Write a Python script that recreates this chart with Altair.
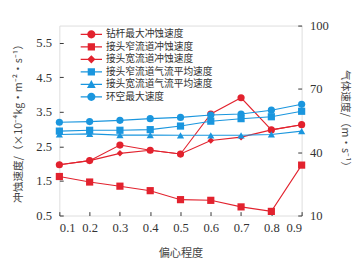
import altair as alt
import pandas as pd

x_vals = [0.1, 0.2, 0.3, 0.4, 0.5, 0.6, 0.7, 0.8, 0.9]

# left axis: erosion rate (x10^-4 kg m^-2 s^-1)
drill_max = [1.97, 2.09, 2.54, 2.39, 2.28, 3.44, 3.91, 2.98, 3.13]
narrow_ero = [1.63, 1.47, 1.35, 1.22, 0.96, 0.94, 0.75, 0.62, 1.96]
wide_ero = [1.97, 2.09, 2.30, 2.39, 2.28, 2.67, 2.77, 2.98, 3.13]

# right axis: gas velocity (m/s)
narrow_gas = [50.0, 50.4, 50.4, 50.7, 52.4, 54.7, 55.9, 56.8, 59.4]
wide_gas = [48.4, 48.7, 48.1, 48.1, 48.0, 48.0, 48.0, 48.4, 50.0]
annulus_max = [54.2, 54.5, 55.1, 55.9, 56.5, 57.6, 58.1, 59.9, 62.7]

names = ["钻杆最大冲蚀速度", "接头窄流道冲蚀速度", "接头宽流道冲蚀速度",
         "接头窄流道气流平均速度", "接头宽流道气流平均速度", "环空最大速度"]
RED = "#e2222e"
BLUE = "#1a96de"
colors = [RED, RED, RED, BLUE, BLUE, BLUE]
shapes = ["circle", "square", "diamond", "square", "triangle-up", "circle"]
line_seg = "M-2.2,-0.12H2.2V0.12H-2.2Z"
legend_paths = [
    line_seg + "M-0.85,0A0.85,0.85 0 1,1 0.85,0A0.85,0.85 0 1,1 -0.85,0Z",
    line_seg + "M-0.75,-0.75H0.75V0.75H-0.75Z",
    line_seg + "M0,-0.85L0.85,0L0,0.85L-0.85,0Z",
    line_seg + "M-0.75,-0.75H0.75V0.75H-0.75Z",
    line_seg + "M0,-0.9L0.9,0.75H-0.9Z",
    line_seg + "M-0.85,0A0.85,0.85 0 1,1 0.85,0A0.85,0.85 0 1,1 -0.85,0Z",
]

left_series = [drill_max, narrow_ero, wide_ero]
right_series = [narrow_gas, wide_gas, annulus_max]

FONT = "Liberation Serif"
CJK = "Noto Sans CJK SC"

xscale = alt.Scale(domain=[0.1, 0.9], nice=False, zero=False)
xaxis = alt.Axis(values=x_vals, format=".1f", title="偏心程度", tickSize=4,
                 offset=-4, domain=False, labelPadding=7, grid=False,
                 labelFont=FONT, labelFontSize=13, labelColor="#333",
                 titleFont=CJK, titleFontSize=11.5, titleFontWeight="normal",
                 titleColor="#444", titlePadding=13, tickColor="#333")

yl_scale = alt.Scale(domain=[0.5, 6.0], nice=False, zero=False)
yl_axis = alt.Axis(values=[0.5, 1.5, 2.5, 3.5, 4.5, 5.5], format=".1f",
                   title="冲蚀速度/（×10⁻⁴kg·m⁻²·s⁻¹）", tickSize=4, offset=-4,
                   domain=False, labelPadding=8, grid=False,
                   labelFont=FONT, labelFontSize=13, labelColor="#333",
                   titleFont=CJK, titleFontSize=11, titleFontWeight="normal",
                   titleColor="#444", titlePadding=13, tickColor="#333")
yr_scale = alt.Scale(domain=[10, 100], nice=False, zero=False)
yr_axis = alt.Axis(values=[10, 40, 70, 100], format="d", orient="right",
                   title="气体速度/（m·s⁻¹）", tickSize=4, offset=-4,
                   domain=False, labelPadding=8, grid=False,
                   labelFont=FONT, labelFontSize=13, labelColor="#333",
                   titleFont=CJK, titleFontSize=11, titleFontWeight="normal",
                   titleColor="#444", titlePadding=12, tickColor="#333")


def series_layers(idx, vals, yscale, yaxis):
    df = pd.DataFrame({"x": x_vals, "v": vals})
    base = alt.Chart(df)
    enc_x = alt.X("x:Q", scale=xscale, axis=xaxis)
    enc_y = alt.Y("v:Q", scale=yscale, axis=yaxis)
    line = base.mark_line(color=colors[idx], strokeWidth=1.1).encode(x=enc_x, y=enc_y)
    pts = base.mark_point(filled=True, shape=shapes[idx], color=colors[idx],
                          size=55 if shapes[idx] != "diamond" else 45,
                          opacity=1).encode(x=enc_x, y=enc_y)
    return [line, pts]


left_layers = []
for i, s in enumerate(left_series):
    left_layers += series_layers(i, s, yl_scale, yl_axis)

legend_df = pd.DataFrame({"series": names})
legend_layer = alt.Chart(legend_df).mark_point(filled=True, opacity=1).encode(
    x=alt.value(0), y=alt.value(0), size=alt.value(0),
    color=alt.Color("series:N", scale=alt.Scale(domain=names, range=colors),
                    legend=alt.Legend(title=None, orient="none", legendX=28, legendY=4,
                                      padding=0, symbolSize=100, symbolOpacity=1,
                                      symbolStrokeWidth=0, labelOffset=10,
                                      rowPadding=2.9, labelFont=CJK, labelFontSize=10,
                                      labelColor="#333", labelLimit=300)),
    shape=alt.Shape("series:N", scale=alt.Scale(domain=names, range=legend_paths)),
)
left_layers.append(legend_layer)

right_layers = []
for j, s in enumerate(right_series):
    right_layers += series_layers(3 + j, s, yr_scale, yr_axis)

left = alt.layer(*left_layers)
right = alt.layer(*right_layers)

chart = alt.layer(left, right).resolve_scale(y="independent").properties(
    width=250, height=196
).configure_view(stroke="#333", strokeWidth=1.2).configure(
    background="white", padding={"left": 4, "top": 8, "right": 2, "bottom": 5}
)

chart.save("out.html", embed_options={"renderer": "svg", "actions": False})
